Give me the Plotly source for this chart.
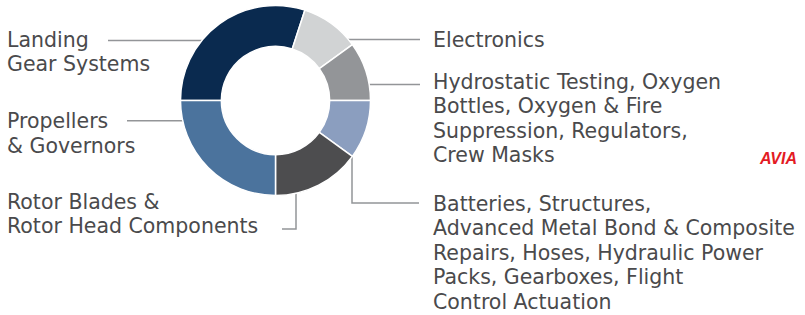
import plotly.graph_objects as go

# ---- data ----
categories = [
    "Landing Gear Systems",
    "Electronics",
    "Hydrostatic Testing, Oxygen Bottles, Oxygen & Fire Suppression, Regulators, Crew Masks",
    "Batteries, Structures, Advanced Metal Bond & Composite Repairs, Hoses, Hydraulic Power Packs, Gearboxes, Flight Control Actuation",
    "Rotor Blades & Rotor Head Components",
    "Propellers & Governors",
]
shares = [30, 10, 10, 10, 15, 25]
colors = ["#0a2a4f", "#d1d3d4", "#939598", "#8b9ebf", "#4d4d4f", "#4b739d"]

label_lines = [
    ["Landing", "Gear Systems"],
    ["Electronics"],
    ["Hydrostatic Testing, Oxygen", "Bottles, Oxygen & Fire", "Suppression, Regulators,", "Crew Masks"],
    ["Batteries, Structures,", "Advanced Metal Bond & Composite", "Repairs, Hoses, Hydraulic Power",
     "Packs, Gearboxes, Flight", "Control Actuation"],
    ["Rotor Blades &", "Rotor Head Components"],
    ["Propellers", "& Governors"],
]

# ---- layout (pixel space) ----
W, H = 805, 315
cx, cy, R = 275.5, 100.5, 95
label_pos = [(5, 39.5), (431, 39.5), (431, 81.5), (431, 203.5), (5, 201.5), (5, 121)]
line_step = 24.5
leaders = [
    [(226, 40.5), (108, 40.5)],
    [(327, 39.5), (420, 39.5)],
    [(351, 84.5), (420, 84.5)],
    [(352, 131), (352, 203), (419, 203)],
    [(296, 178), (296, 229), (282, 229)],
    [(201, 120.7), (127, 120.7)],
]
text_color = "#4a4a4c"
lead_color = "#939598"
font_family = "DejaVu Sans"
font_size = 20.5

fig = go.Figure()
fig.add_trace(go.Pie(
    labels=categories, values=shares, sort=False, direction="clockwise",
    rotation=-90, hole=0.57, textinfo="none", hoverinfo="label+percent",
    marker=dict(colors=colors, line=dict(color="white", width=1.5)),
    domain=dict(x=[(cx - R) / W, (cx + R) / W], y=[1 - (cy + R) / H, 1 - (cy - R) / H]),
    showlegend=False,
))

for pts in leaders:
    xs = [p[0] for p in pts]
    ys = [p[1] for p in pts]
    fig.add_trace(go.Scatter(x=xs, y=ys, mode="lines", line=dict(color=lead_color, width=1.5),
                             hoverinfo="skip", showlegend=False))
    fig.add_trace(go.Scatter(x=[xs[0]], y=[ys[0]], mode="markers",
                             marker=dict(color=lead_color, size=6), hoverinfo="skip", showlegend=False))

annotations = []
for lines, (lx, ly) in zip(label_lines, label_pos):
    for i, t in enumerate(lines):
        annotations.append(dict(x=lx, y=ly + i * line_step, xref="x", yref="y", text=t,
                                showarrow=False, xanchor="left", yanchor="middle",
                                font=dict(family=font_family, size=font_size, color=text_color)))
annotations.append(dict(x=799, y=158, xref="x", yref="y", text="<b><i>AVIA</i></b>",
                        showarrow=False, xanchor="right", yanchor="middle",
                        font=dict(family="Liberation Sans", size=16, color="#e31b23")))

fig.update_layout(
    width=W, height=H, margin=dict(l=0, r=0, t=0, b=0),
    paper_bgcolor="white", plot_bgcolor="rgba(0,0,0,0)",
    xaxis=dict(range=[0, W], visible=False, domain=[0, 1], fixedrange=True),
    yaxis=dict(range=[H, 0], visible=False, domain=[0, 1], fixedrange=True),
    annotations=annotations,
)
fig.write_html("out.html", config={"displayModeBar": False},
               post_script="document.body.style.margin='0';")
